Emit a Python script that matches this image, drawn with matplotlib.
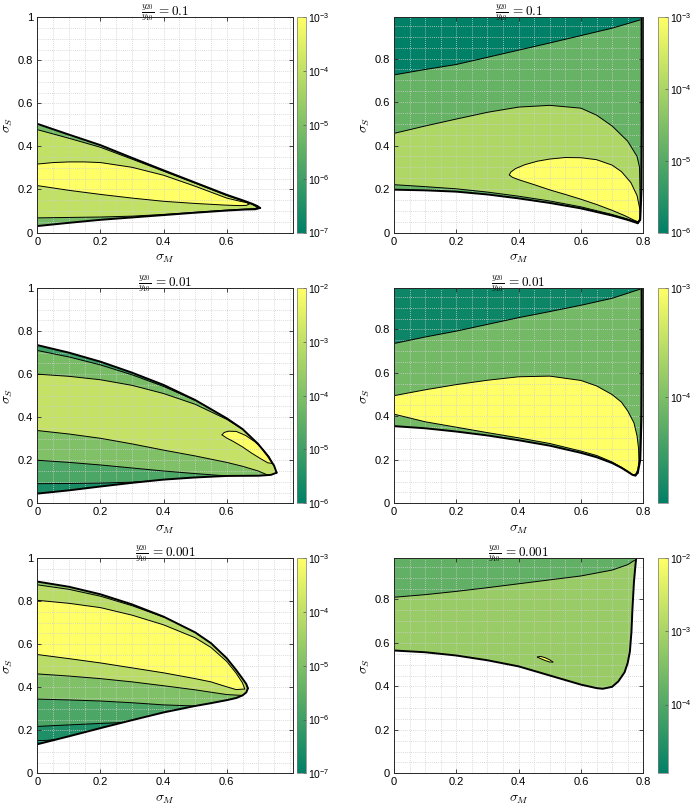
import numpy as np
import matplotlib
matplotlib.use('Agg')
import matplotlib.pyplot as plt
from matplotlib.colors import LogNorm
from matplotlib.cm import ScalarMappable
from matplotlib.ticker import MultipleLocator, FixedLocator, FuncFormatter

plt.rcParams['font.family'] = ['Liberation Sans', 'DejaVu Sans']
plt.rcParams['mathtext.fontset'] = 'cm'

# ---------------- data (sigma_M, sigma_S) ----------------
ratios = ['0.1', '0.01', '0.001']

# Panel 1 (left, 0.1)  colourbar 1e-7 .. 1e-3
p1_cbar = (-7, -3)
p1_outer_top_M = [0, 0.1, 0.2, 0.3, 0.4, 0.5, 0.6, 0.65, 0.68, 0.697, 0.706]
p1_outer_top_S = [0.505, 0.455, 0.406, 0.347, 0.289, 0.232, 0.175, 0.150, 0.134, 0.123, 0.114]
p1_outer_bot_M = [0, 0.1, 0.2, 0.3, 0.4, 0.5, 0.6, 0.66, 0.69, 0.706]
p1_outer_bot_S = [0.030, 0.045, 0.059, 0.070, 0.081, 0.092, 0.102, 0.107, 0.108, 0.114]
p1_c2_top_M = [0, 0.1, 0.2, 0.3, 0.4, 0.5, 0.6, 0.65, 0.68, 0.697]
p1_c2_top_S = [0.478, 0.438, 0.396, 0.341, 0.285, 0.229, 0.172, 0.147, 0.131, 0.117]
p1_c2_bot_M = [0, 0.1, 0.2, 0.3, 0.4, 0.5, 0.6, 0.66, 0.69, 0.697]
p1_c2_bot_S = [0.068, 0.070, 0.072, 0.076, 0.084, 0.094, 0.104, 0.109, 0.111, 0.117]
p1_c3_top_M = [0, 0.05, 0.1, 0.15, 0.2, 0.3, 0.4, 0.5, 0.6, 0.64, 0.662, 0.672]
p1_c3_top_S = [0.318, 0.325, 0.328, 0.328, 0.325, 0.303, 0.266, 0.215, 0.160, 0.146, 0.139, 0.133]
p1_c3_bot_M = [0, 0.1, 0.2, 0.3, 0.4, 0.5, 0.6, 0.64, 0.662, 0.672]
p1_c3_bot_S = [0.218, 0.196, 0.177, 0.160, 0.145, 0.135, 0.127, 0.125, 0.126, 0.133]
p1_levels = [-5.2, -4.0, -3.0]          # outer band, middle, inner (log10)

# Panel 2 (right, 0.1)  colourbar 1e-6 .. 1e-3
p2_cbar = (-6, -3)
p2_upper_M = [0, 0.1, 0.2, 0.3, 0.4, 0.5, 0.6, 0.7, 0.79]
p2_upper_S = [0.725, 0.750, 0.773, 0.806, 0.839, 0.872, 0.906, 0.940, 0.978]
p2_outer_bot_M = [0, 0.1, 0.2, 0.3, 0.4, 0.5, 0.6, 0.7, 0.75, 0.782]
p2_outer_bot_S = [0.197, 0.194, 0.188, 0.175, 0.157, 0.136, 0.111, 0.078, 0.058, 0.043]
p2_edge_M = [0.782, 0.790, 0.794, 0.795, 0.795]
p2_edge_S = [0.043, 0.060, 0.200, 0.500, 1.000]
p2_light_top_M = [0, 0.1, 0.2, 0.3, 0.4, 0.5, 0.6, 0.65, 0.7, 0.75, 0.78, 0.788, 0.79, 0.79]
p2_light_top_S = [0.456, 0.490, 0.522, 0.553, 0.577, 0.585, 0.572, 0.540, 0.490, 0.420, 0.350, 0.300, 0.150, 0.060]
p2_light_bot_M = [0, 0.1, 0.2, 0.3, 0.4, 0.5, 0.6, 0.7, 0.75, 0.785, 0.79]
p2_light_bot_S = [0.220, 0.211, 0.201, 0.186, 0.167, 0.145, 0.118, 0.083, 0.062, 0.047, 0.060]
p2_yel_top_M = [0.37, 0.375, 0.39, 0.42, 0.46, 0.5, 0.55, 0.6, 0.65, 0.7, 0.73, 0.76, 0.78, 0.79, 0.79]
p2_yel_top_S = [0.265, 0.278, 0.294, 0.312, 0.328, 0.338, 0.345, 0.344, 0.335, 0.310, 0.280, 0.230, 0.170, 0.100, 0.055]
p2_yel_bot_M = [0.37, 0.38, 0.4, 0.45, 0.5, 0.55, 0.6, 0.65, 0.7, 0.74, 0.77, 0.785, 0.79]
p2_yel_bot_S = [0.265, 0.254, 0.243, 0.220, 0.196, 0.175, 0.153, 0.129, 0.102, 0.078, 0.057, 0.048, 0.055]
p2_levels = [-6.0, -4.8, -3.96, -3.0]   # top, domain, light, yellow

# Panel 3 (left, 0.01)  colourbar 1e-6 .. 1e-2
p3_cbar = (-6, -2)
p3_outer_top_M = [0, 0.1, 0.2, 0.3, 0.4, 0.5, 0.6, 0.65, 0.7, 0.73, 0.75, 0.758]
p3_outer_top_S = [0.735, 0.700, 0.658, 0.607, 0.550, 0.480, 0.395, 0.345, 0.275, 0.220, 0.175, 0.142]
p3_outer_bot_M = [0, 0.1, 0.2, 0.3, 0.4, 0.5, 0.6, 0.7, 0.74, 0.758]
p3_outer_bot_S = [0.045, 0.060, 0.078, 0.095, 0.110, 0.120, 0.127, 0.128, 0.132, 0.142]
p3_cA_M = [0, 0.1, 0.2, 0.3, 0.4, 0.5]
p3_cA_S = [0.710, 0.680, 0.643, 0.597, 0.543, 0.478]
p3_cB_M = [0, 0.1, 0.2, 0.3, 0.4, 0.5, 0.6, 0.65]
p3_cB_S = [0.600, 0.590, 0.574, 0.548, 0.510, 0.460, 0.390, 0.344]
p3_cC_M = [0, 0.1, 0.2, 0.3, 0.4, 0.5, 0.6, 0.65, 0.7, 0.73]
p3_cC_S = [0.338, 0.322, 0.302, 0.276, 0.247, 0.220, 0.190, 0.172, 0.150, 0.131]
p3_cD_M = [0, 0.1, 0.2, 0.3, 0.4, 0.5, 0.6]
p3_cD_S = [0.200, 0.190, 0.178, 0.164, 0.150, 0.138, 0.127]
p3_cE_M = [0, 0.1, 0.2, 0.3, 0.35]
p3_cE_S = [0.091, 0.092, 0.094, 0.098, 0.1025]
p3_yel_top_M = [0.585, 0.592, 0.605, 0.63, 0.66, 0.69, 0.715, 0.735, 0.745]
p3_yel_top_S = [0.318, 0.329, 0.335, 0.334, 0.315, 0.285, 0.250, 0.215, 0.185]
p3_yel_bot_M = [0.585, 0.6, 0.62, 0.65, 0.68, 0.71, 0.73, 0.745]
p3_yel_bot_S = [0.318, 0.303, 0.288, 0.262, 0.232, 0.205, 0.188, 0.185]
p3_levels = [-5.0, -4.12, -2.92, -4.0, -4.8, -5.6, -2.0]  # T0, T1, main, B1, B2, B3, yellow

# Panel 4 (right, 0.01)  colourbar ~1e-5 .. 1e-3
p4_cbar = (-4.97, -3)
p4_upper_M = [0, 0.1, 0.2, 0.3, 0.4, 0.5, 0.6, 0.7, 0.79]
p4_upper_S = [0.735, 0.765, 0.792, 0.823, 0.854, 0.882, 0.911, 0.943, 0.985]
p4_outer_bot_M = [0, 0.1, 0.2, 0.3, 0.4, 0.5, 0.6, 0.65, 0.7, 0.73, 0.75, 0.765, 0.775, 0.782]
p4_outer_bot_S = [0.355, 0.345, 0.330, 0.312, 0.290, 0.265, 0.232, 0.212, 0.185, 0.163, 0.145, 0.131, 0.127, 0.140]
p4_edge_M = [0.782, 0.790, 0.794, 0.795, 0.795]
p4_edge_S = [0.140, 0.200, 0.400, 0.700, 1.000]
p4_yel_top_M = [0, 0.1, 0.2, 0.3, 0.4, 0.5, 0.6, 0.65, 0.7, 0.73, 0.75, 0.77, 0.78, 0.785, 0.786, 0.783, 0.776, 0.768]
p4_yel_top_S = [0.495, 0.522, 0.546, 0.566, 0.582, 0.585, 0.565, 0.540, 0.500, 0.465, 0.425, 0.370, 0.310, 0.250, 0.190, 0.155, 0.135, 0.130]
p4_yel_bot_M = [0, 0.1, 0.2, 0.3, 0.4, 0.5, 0.6, 0.65, 0.7, 0.73, 0.75, 0.768]
p4_yel_bot_S = [0.410, 0.375, 0.350, 0.325, 0.301, 0.275, 0.240, 0.220, 0.190, 0.166, 0.148, 0.130]
p4_levels = [-4.87, -4.08, -3.0]        # top, domain, yellow

# Panel 5 (left, 0.001)  colourbar 1e-7 .. 1e-3
p5_cbar = (-7, -3)
p5_outer_top_M = [0, 0.1, 0.2, 0.3, 0.4, 0.5, 0.55, 0.6, 0.63, 0.65, 0.662, 0.667]
p5_outer_top_S = [0.891, 0.867, 0.832, 0.785, 0.728, 0.655, 0.605, 0.535, 0.480, 0.440, 0.415, 0.395]
p5_outer_bot_M = [0, 0.1, 0.2, 0.3, 0.4, 0.5, 0.55, 0.6, 0.63, 0.65, 0.662, 0.667]
p5_outer_bot_S = [0.135, 0.172, 0.210, 0.247, 0.283, 0.313, 0.326, 0.340, 0.350, 0.362, 0.376, 0.395]
p5_cT_M = [0, 0.1, 0.2, 0.3, 0.4]
p5_cT_S = [0.876, 0.855, 0.823, 0.779, 0.726]
p5_yel_top_M = [0, 0.1, 0.2, 0.3, 0.4, 0.5, 0.55, 0.6, 0.63, 0.65, 0.657]
p5_yel_top_S = [0.804, 0.790, 0.770, 0.735, 0.690, 0.630, 0.585, 0.520, 0.465, 0.420, 0.392]
p5_yel_bot_M = [0, 0.1, 0.2, 0.3, 0.4, 0.5, 0.55, 0.6, 0.63, 0.657]
p5_yel_bot_S = [0.552, 0.533, 0.513, 0.490, 0.467, 0.440, 0.425, 0.402, 0.389, 0.392]
p5_c4_M = [0, 0.1, 0.2, 0.3, 0.4, 0.5, 0.6, 0.65]
p5_c4_S = [0.462, 0.452, 0.440, 0.425, 0.407, 0.388, 0.366, 0.362]
p5_c5_M = [0, 0.1, 0.2, 0.3, 0.4, 0.5]
p5_c5_S = [0.345, 0.341, 0.336, 0.328, 0.318, 0.313]
p5_c6_M = [0, 0.1, 0.2, 0.27]
p5_c6_S = [0.218, 0.225, 0.232, 0.236]
p5_c7_M = [0, 0.03, 0.06]
p5_c7_S = [0.152, 0.153, 0.1575]
p5_levels = [-4.8, -4.12, -3.0, -4.12, -5.0, -5.8, -6.52, -7.0]  # T0, T1, yellow, below-yel, c4-c5, c5-c6, c6-c7, bottom

# Panel 6 (right, 0.001)  colourbar ~1e-5 .. 1e-2
p6_cbar = (-4.94, -2)
p6_upper_M = [0, 0.1, 0.2, 0.3, 0.4, 0.5, 0.6, 0.7, 0.75, 0.772]
p6_upper_S = [0.810, 0.822, 0.837, 0.854, 0.872, 0.890, 0.908, 0.935, 0.960, 0.980]
p6_outer_M = [0, 0.1, 0.2, 0.3, 0.4, 0.5, 0.6, 0.65, 0.67, 0.7, 0.72, 0.74, 0.75, 0.757, 0.762, 0.765, 0.77, 0.775, 0.778]
p6_outer_S = [0.565, 0.557, 0.542, 0.520, 0.492, 0.450, 0.408, 0.392, 0.389, 0.398, 0.423, 0.465, 0.508, 0.560, 0.650, 0.750, 0.880, 0.960, 1.000]
p6_yel_top_M = [0.46, 0.47, 0.485, 0.50, 0.51]
p6_yel_top_S = [0.535, 0.538, 0.532, 0.522, 0.512]
p6_yel_bot_M = [0.46, 0.47, 0.485, 0.50, 0.51]
p6_yel_bot_S = [0.535, 0.528, 0.519, 0.512, 0.512]
p6_levels = [-3.82, -3.18, -2.0]        # top, domain, yellow

# ---------------- drawing helpers ----------------
cmap = plt.get_cmap('summer')


def col(v, rng):
    lo, hi = rng
    return cmap(np.clip((v - lo) / (hi - lo), 0, 1))


def merge(cx, cy, bx, by):
    """curve followed by the base curve beyond the curve's end."""
    xs, ys = list(cx), list(cy)
    for x, y in zip(bx, by):
        if x > cx[-1] + 1e-9:
            xs.append(x)
            ys.append(y)
    return xs, ys


def fill_region(ax, top, bot, color):
    xs = list(top[0]) + list(bot[0])[::-1]
    ys = list(top[1]) + list(bot[1])[::-1]
    ax.fill(xs, ys, color=color, lw=0, zorder=1)


def line(ax, x, y, lw=0.7):
    ax.plot(x, y, color='black', lw=lw, zorder=3, solid_capstyle='round',
            solid_joinstyle='round')


# ---------------- figure layout ----------------
fig = plt.figure(figsize=(6.9, 8.09), dpi=100)
row_bottom = [0.7126, 0.3779, 0.0441]
H = 0.2660
L_AX = (0.0541, 0.3701)
R_AX = (0.5710, 0.3613)
L_CB = (0.4304, 0.0130)
R_CB = (0.9536, 0.0140)
grid_col = '#cfcfcf'
fmt = FuncFormatter(lambda v, p: '%g' % round(v, 3))


def style_axes(ax, right, title):
    if right:
        ax.set_xlim(0, 0.8)
        ax.set_ylim(0, 0.99)
        ax.xaxis.set_major_locator(FixedLocator([0, 0.2, 0.4, 0.6, 0.8]))
        ax.yaxis.set_major_locator(FixedLocator([0, 0.2, 0.4, 0.6, 0.8]))
    else:
        ax.set_xlim(0, 0.809)
        ax.set_ylim(0, 1)
        ax.xaxis.set_major_locator(FixedLocator([0, 0.2, 0.4, 0.6]))
        ax.yaxis.set_major_locator(FixedLocator([0, 0.2, 0.4, 0.6, 0.8, 1]))
    ax.xaxis.set_major_formatter(fmt)
    ax.yaxis.set_major_formatter(fmt)
    ax.xaxis.set_minor_locator(MultipleLocator(0.05))
    ax.yaxis.set_minor_locator(MultipleLocator(0.05))
    ax.set_axisbelow(False)
    ax.grid(which='both', color=grid_col, ls=(0, (1, 1.5)), lw=0.6)
    ax.tick_params(which='major', direction='in', length=3, width=0.6,
                   top=True, right=True, labelsize=8, pad=3, color='#262626')
    ax.tick_params(which='minor', length=0)
    for s in ax.spines.values():
        s.set_linewidth(0.7)
        s.set_color('#262626')
        s.set_zorder(4)
    ax.set_xlabel(r'$\sigma_M$', fontsize=10, labelpad=3)
    ax.set_ylabel(r'$\sigma_S$', fontsize=10, labelpad=2)
    ax.set_title(r'$\frac{y_{20}}{y_{10}}\,=%s$' % title, fontsize=9.5, pad=0.5)


def add_cbar(bottom, right, rng):
    pos = R_CB if right else L_CB
    cax = fig.add_axes([pos[0], bottom, pos[1], H])
    sm = ScalarMappable(norm=LogNorm(10 ** rng[0], 10 ** rng[1]), cmap=cmap)
    cb = fig.colorbar(sm, cax=cax)
    decs = [d for d in range(int(np.ceil(rng[0] - 1e-9)), int(np.floor(rng[1] + 1e-9)) + 1)]
    cb.set_ticks([10.0 ** d for d in decs])
    cb.set_ticklabels([r'$\mathregular{10^{%d}}$' % d for d in decs])
    cb.ax.minorticks_off()
    cb.ax.tick_params(direction='in', length=2, width=0.5, labelsize=7.5, pad=1.5, color='#555555')
    cb.outline.set_linewidth(0.5)
    cb.outline.set_edgecolor('#777777')


axes = []
for r in range(3):
    for c in range(2):
        pos = R_AX if c else L_AX
        ax = fig.add_axes([pos[0], row_bottom[r], pos[1], H])
        axes.append(ax)

# ---- Panel 1 ----
ax = axes[0]
ot = (p1_outer_top_M, p1_outer_top_S)
ob = (p1_outer_bot_M, p1_outer_bot_S)
fill_region(ax, ot, ob, col(p1_levels[0], p1_cbar))
fill_region(ax, (p1_c2_top_M, p1_c2_top_S), (p1_c2_bot_M, p1_c2_bot_S), col(p1_levels[1], p1_cbar))
fill_region(ax, (p1_c3_top_M, p1_c3_top_S), (p1_c3_bot_M, p1_c3_bot_S), col(p1_levels[2], p1_cbar))
for (x, y) in [(p1_c2_top_M, p1_c2_top_S), (p1_c2_bot_M, p1_c2_bot_S),
               (p1_c3_top_M, p1_c3_top_S), (p1_c3_bot_M, p1_c3_bot_S)]:
    line(ax, x, y)
line(ax, ot[0], ot[1], 1.4)
line(ax, ob[0], ob[1], 1.4)

# ---- Panel 2 ----
ax = axes[1]
dx = p2_outer_bot_M + p2_edge_M + [0]
dy = p2_outer_bot_S + p2_edge_S + [1.0]
ax.fill(dx, dy, color=col(p2_levels[1], p2_cbar), lw=0, zorder=1)
ax.fill(p2_upper_M + [p2_edge_M[-1], 0], p2_upper_S + [1.0, 1.0],
        color=col(p2_levels[0], p2_cbar), lw=0, zorder=1)
fill_region(ax, (p2_light_top_M, p2_light_top_S), (p2_light_bot_M, p2_light_bot_S), col(p2_levels[2], p2_cbar))
fill_region(ax, (p2_yel_top_M, p2_yel_top_S), (p2_yel_bot_M, p2_yel_bot_S), col(p2_levels[3], p2_cbar))
for (x, y) in [(p2_upper_M, p2_upper_S), (p2_light_top_M, p2_light_top_S),
               (p2_light_bot_M, p2_light_bot_S), (p2_yel_top_M, p2_yel_top_S),
               (p2_yel_bot_M, p2_yel_bot_S)]:
    line(ax, x, y)
line(ax, p2_outer_bot_M, p2_outer_bot_S, 1.4)
line(ax, p2_edge_M, p2_edge_S, 1.6)

# ---- Panel 3 ----
ax = axes[2]
ot = (p3_outer_top_M, p3_outer_top_S)
ob = (p3_outer_bot_M, p3_outer_bot_S)
fill_region(ax, ot, ob, col(p3_levels[0], p3_cbar))
fill_region(ax, merge(p3_cA_M, p3_cA_S, *ot), ob, col(p3_levels[1], p3_cbar))
fill_region(ax, merge(p3_cB_M, p3_cB_S, *ot), ob, col(p3_levels[2], p3_cbar))
fill_region(ax, merge(p3_cC_M, p3_cC_S, *ob), ob, col(p3_levels[3], p3_cbar))
fill_region(ax, merge(p3_cD_M, p3_cD_S, *ob), ob, col(p3_levels[4], p3_cbar))
fill_region(ax, merge(p3_cE_M, p3_cE_S, *ob), ob, col(p3_levels[5], p3_cbar))
fill_region(ax, (p3_yel_top_M, p3_yel_top_S), (p3_yel_bot_M, p3_yel_bot_S), col(p3_levels[6], p3_cbar))
for (x, y) in [(p3_cA_M, p3_cA_S), (p3_cB_M, p3_cB_S), (p3_cC_M, p3_cC_S),
               (p3_cD_M, p3_cD_S), (p3_cE_M, p3_cE_S),
               (p3_yel_top_M, p3_yel_top_S), (p3_yel_bot_M, p3_yel_bot_S)]:
    line(ax, x, y)
line(ax, ot[0], ot[1], 1.4)
line(ax, ob[0], ob[1], 1.4)

# ---- Panel 4 ----
ax = axes[3]
dx = p4_outer_bot_M + p4_edge_M + [0]
dy = p4_outer_bot_S + p4_edge_S + [1.0]
ax.fill(dx, dy, color=col(p4_levels[1], p4_cbar), lw=0, zorder=1)
ax.fill(p4_upper_M + [p4_edge_M[-1], 0], p4_upper_S + [1.0, 1.0],
        color=col(p4_levels[0], p4_cbar), lw=0, zorder=1)
fill_region(ax, (p4_yel_top_M, p4_yel_top_S), (p4_yel_bot_M, p4_yel_bot_S), col(p4_levels[2], p4_cbar))
for (x, y) in [(p4_upper_M, p4_upper_S), (p4_yel_top_M, p4_yel_top_S), (p4_yel_bot_M, p4_yel_bot_S)]:
    line(ax, x, y)
line(ax, p4_outer_bot_M, p4_outer_bot_S, 1.4)
line(ax, p4_edge_M, p4_edge_S, 1.6)

# ---- Panel 5 ----
ax = axes[4]
ot = (p5_outer_top_M, p5_outer_top_S)
ob = (p5_outer_bot_M, p5_outer_bot_S)
fill_region(ax, ot, ob, col(p5_levels[0], p5_cbar))
fill_region(ax, merge(p5_cT_M, p5_cT_S, *ot), ob, col(p5_levels[1], p5_cbar))
fill_region(ax, (p5_yel_top_M, p5_yel_top_S), (p5_yel_bot_M, p5_yel_bot_S), col(p5_levels[2], p5_cbar))
fill_region(ax, merge(p5_yel_bot_M, p5_yel_bot_S, *ob), ob, col(p5_levels[3], p5_cbar))
fill_region(ax, merge(p5_c4_M, p5_c4_S, *ob), ob, col(p5_levels[4], p5_cbar))
fill_region(ax, merge(p5_c5_M, p5_c5_S, *ob), ob, col(p5_levels[5], p5_cbar))
fill_region(ax, merge(p5_c6_M, p5_c6_S, *ob), ob, col(p5_levels[6], p5_cbar))
fill_region(ax, merge(p5_c7_M, p5_c7_S, *ob), ob, col(p5_levels[7], p5_cbar))
for (x, y) in [(p5_cT_M, p5_cT_S), (p5_yel_top_M, p5_yel_top_S), (p5_yel_bot_M, p5_yel_bot_S),
               (p5_c4_M, p5_c4_S), (p5_c5_M, p5_c5_S), (p5_c6_M, p5_c6_S), (p5_c7_M, p5_c7_S)]:
    line(ax, x, y)
line(ax, ot[0], ot[1], 1.4)
line(ax, ob[0], ob[1], 1.4)

# ---- Panel 6 ----
ax = axes[5]
ax.fill(p6_outer_M + [0], p6_outer_S + [1.0], color=col(p6_levels[1], p6_cbar), lw=0, zorder=1)
ax.fill(p6_upper_M + [p6_outer_M[-1], 0], p6_upper_S + [1.0, 1.0],
        color=col(p6_levels[0], p6_cbar), lw=0, zorder=1)
fill_region(ax, (p6_yel_top_M, p6_yel_top_S), (p6_yel_bot_M, p6_yel_bot_S), col(p6_levels[2], p6_cbar))
for (x, y) in [(p6_upper_M, p6_upper_S), (p6_yel_top_M, p6_yel_top_S), (p6_yel_bot_M, p6_yel_bot_S)]:
    line(ax, x, y)
line(ax, p6_outer_M, p6_outer_S, 1.4)

cbar_ranges = [p1_cbar, p2_cbar, p3_cbar, p4_cbar, p5_cbar, p6_cbar]
for i, ax in enumerate(axes):
    r, c = divmod(i, 2)
    style_axes(ax, c == 1, ratios[r])
    add_cbar(row_bottom[r], c == 1, cbar_ranges[i])

fig.savefig('out.png', dpi=100)
